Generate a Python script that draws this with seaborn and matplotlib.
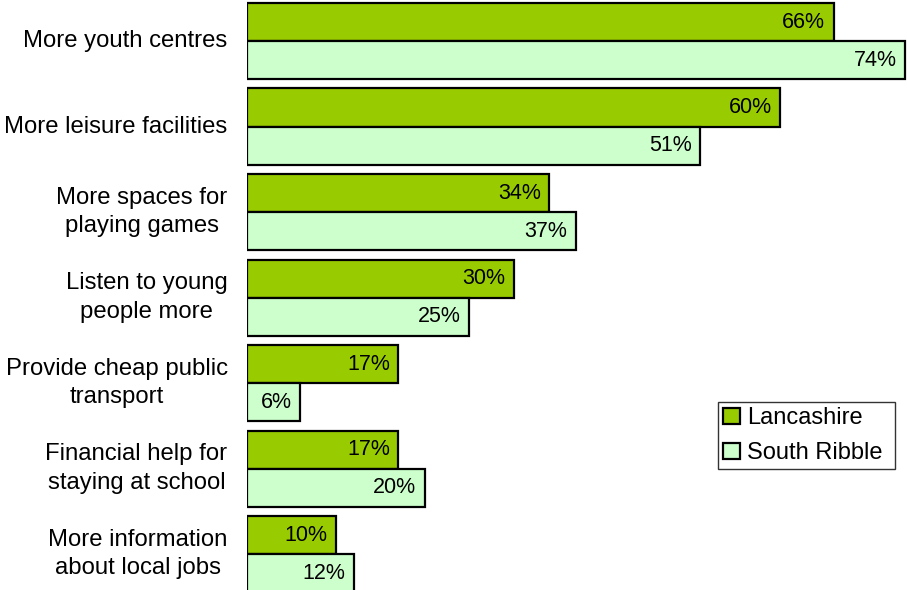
import matplotlib
matplotlib.use("Agg")
import matplotlib.pyplot as plt
import seaborn as sns
import pandas as pd

categories = [
    "More youth centres",
    "More leisure facilities",
    "More spaces for\nplaying games",
    "Listen to young\npeople more",
    "Provide cheap public\ntransport",
    "Financial help for\nstaying at school",
    "More information\nabout local jobs",
]
lancashire = [66, 60, 34, 30, 17, 17, 10]
south_ribble = [74, 51, 37, 25, 6, 20, 12]
series = ["Lancashire", "South Ribble"]
colors = ["#99CC00", "#CCFFCC"]

df = pd.DataFrame({
    "Category": categories * 2,
    "Value": lancashire + south_ribble,
    "Area": [series[0]] * len(categories) + [series[1]] * len(categories),
})

sns.set_style("white")
plt.rcParams["font.family"] = ["Liberation Sans", "DejaVu Sans"]
plt.rcParams["text.color"] = "black"
plt.rcParams["ytick.color"] = "black"

fig = plt.figure(figsize=(9.07, 5.90), dpi=100)
ax = fig.add_axes([247 / 907, 0, 660 / 907, 1])

sns.barplot(data=df, y="Category", x="Value", hue="Area", palette=colors,
            orient="h", width=0.89, gap=0, saturation=1, edgecolor="black",
            linewidth=1.6, ax=ax, legend=True)

ax.set_xlim(0, 74.25)
ax.set_ylim(6.42, -0.48)
for s in ax.spines.values():
    s.set_visible(False)
ax.set_xticks([])
ax.set_xlabel("")
ax.set_ylabel("")
ax.set_yticks(range(len(categories)))
ax.set_yticklabels(categories, fontsize=17.2, color="black", va="center",
                   multialignment="center", linespacing=1.4)
ax.tick_params(axis="y", length=0, pad=14)

for cont in ax.containers:
    for p in cont.patches:
        w = p.get_width()
        ax.annotate(f"{w:.0f}%", xy=(w, p.get_y() + p.get_height() / 2),
                    xytext=(-6, 0), textcoords="offset points",
                    ha="right", va="center", fontsize=15.5, color="black")

leg = ax.legend(loc="upper left",
                bbox_to_anchor=(718 / 907, 1 - 402 / 590, 177 / 907, 0.0),
                mode="expand",
                bbox_transform=fig.transFigure, frameon=True, fancybox=False,
                edgecolor="black", fontsize=17, handlelength=0.7, handleheight=0.7,
                handletextpad=0.3, borderpad=0.22, labelspacing=0.55,
                borderaxespad=0)
leg.get_frame().set_linewidth(1.0)
for h in leg.legend_handles:
    h.set_edgecolor("black")
    h.set_linewidth(1.6)

fig.savefig("out.png", dpi=100)
